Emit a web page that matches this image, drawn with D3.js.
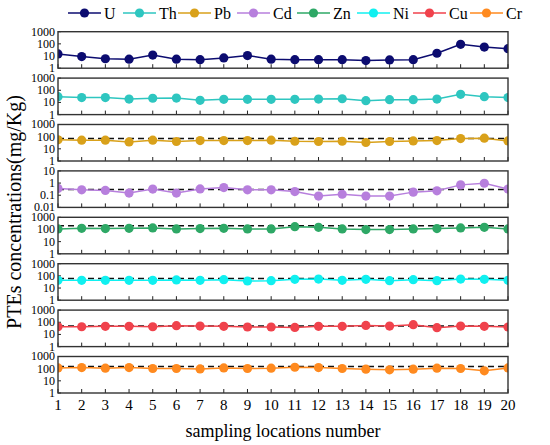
<!DOCTYPE html>
<html lang="en">
<head>
<meta charset="UTF-8"/>
<title>PTEs concentrations</title>
<script src="https://d3js.org/d3.v7.min.js"></script>
<style>
	body { margin: 0; background: #fff; }
	text { font-family: "Liberation Serif", "Times New Roman", serif; }
</style>
</head>
<body>
<script>
var w = 550;
var h = 445;

var locations = d3.range(1, 21);
var elements = ["U", "Th", "Pb", "Cd", "Zn", "Ni", "Cu", "Cr"];
var colors = ["#0c0c70", "#2ec6c0", "#d9a11a", "#b77fdd", "#2ea866", "#10f0f0", "#f0424c", "#ff8a1f"];

var U  = [15, 9, 6, 5.5, 12, 5.5, 5, 7, 11, 5.5, 5, 5, 5, 4.2, 4.8, 5, 17, 92, 55, 40];
var Th = [30, 25, 25, 19, 22, 23, 15, 18, 18, 18, 18, 19, 20, 14, 17, 17, 19, 46, 30, 25];
var Pb = [55, 51, 51, 37, 51, 40, 48, 48, 48, 51, 42, 40, 42, 33, 40, 45, 48, 70, 75, 45];
var Cd = [0.36, 0.28, 0.25, 0.15, 0.32, 0.15, 0.33, 0.43, 0.28, 0.28, 0.2, 0.085, 0.12, 0.085, 0.085, 0.18, 0.23, 0.71, 0.97, 0.32];
var Zn = [110, 125, 118, 125, 134, 110, 118, 125, 110, 110, 171, 150, 110, 98, 98, 110, 118, 134, 150, 110];
var Ni = [43, 43, 43, 43, 43, 46, 43, 49, 38, 40, 52, 55, 43, 52, 40, 49, 40, 55, 52, 43];
var Cu = [43, 43, 46, 46, 43, 52, 49, 46, 41, 41, 38, 46, 46, 55, 49, 63, 36, 49, 46, 41];
var Cr = [116, 123, 110, 123, 103, 103, 96, 116, 103, 110, 131, 123, 103, 91, 80, 91, 110, 103, 66, 116];
var series = [U, Th, Pb, Cd, Zn, Ni, Cu, Cr];

// soil screening values (dashed lines), null = none
var limits = [null, null, 70, 0.3, 200, 60, 50, 150];
var yDomains = [[1, 1000], [1, 1000], [1, 1000], [0.01, 10], [1, 1000], [1, 1000], [1, 1000], [1, 1000]];

var left = 58, right = 508;
var top0 = 31.7, step = 46.4, ph = 36.5;

var svg = d3.select("body").append("svg")
	.attr("width", w)
	.attr("height", h);

var xScale = d3.scaleLinear().domain([1, 20]).range([left, right]);

series.forEach(function (vals, i) {
	var y0 = top0 + i * step;
	var yScale = d3.scaleLog().domain(yDomains[i]).range([y0 + ph, y0]);
	var g = svg.append("g");

	g.append("clipPath").attr("id", "clip" + i)
		.append("rect")
		.attr("x", left).attr("y", y0)
		.attr("width", right - left).attr("height", ph);

	// x ticks pointing inward from the bottom
	g.selectAll(".xt").data(locations).enter().append("line")
		.attr("x1", function (d) { return xScale(d); })
		.attr("x2", function (d) { return xScale(d); })
		.attr("y1", y0 + ph)
		.attr("y2", y0 + ph - 4)
		.attr("stroke", "#222").attr("stroke-width", 1);

	// y tick labels (decades only)
	var yt = yScale.ticks().filter(function (t) {
		return Math.abs(Math.log10(t) - Math.round(Math.log10(t))) < 1e-9;
	});
	g.selectAll(".yl").data(yt).enter().append("text")
		.attr("x", left - 3)
		.attr("y", function (d) { return yScale(d); })
		.attr("dy", "0.33em")
		.attr("text-anchor", "end")
		.attr("font-size", "12px")
		.text(function (d) { return d < 1 ? String(+d.toFixed(2)) : d3.format("d")(d); });
	g.selectAll(".ytk").data(yt).enter().append("line")
		.attr("x1", left).attr("x2", left + 3)
		.attr("y1", function (d) { return yScale(d); })
		.attr("y2", function (d) { return yScale(d); })
		.attr("stroke", "#222");

	var plot = g.append("g").attr("clip-path", "url(#clip" + i + ")");

	if (limits[i] !== null) {
		plot.append("line")
			.attr("x1", left).attr("x2", right)
			.attr("y1", yScale(limits[i])).attr("y2", yScale(limits[i]))
			.attr("stroke", "#111").attr("stroke-width", 1.4)
			.attr("stroke-dasharray", "6,4");
	}

	var line = d3.line()
		.x(function (d, j) { return xScale(locations[j]); })
		.y(function (d) { return yScale(d); });

	plot.append("path").datum(vals)
		.attr("d", line)
		.attr("fill", "none")
		.attr("stroke", colors[i])
		.attr("stroke-width", 1.5);

	plot.selectAll("circle").data(vals).enter().append("circle")
		.attr("cx", function (d, j) { return xScale(locations[j]); })
		.attr("cy", function (d) { return yScale(d); })
		.attr("r", 4.6)
		.attr("fill", colors[i]);

	g.append("rect")
		.attr("x", left).attr("y", y0)
		.attr("width", right - left).attr("height", ph)
		.attr("fill", "none")
		.attr("stroke", "#333").attr("stroke-width", 1.4);
});

// x tick labels under the last panel
var lastBottom = top0 + 7 * step + ph;
svg.selectAll(".xl").data(locations).enter().append("text")
	.attr("x", function (d) { return xScale(d); })
	.attr("y", lastBottom + 17)
	.attr("text-anchor", "middle")
	.attr("font-size", "15px")
	.text(function (d) { return d; });

svg.append("text")
	.attr("x", (left + right) / 2)
	.attr("y", 437)
	.attr("text-anchor", "middle")
	.attr("font-size", "18px")
	.text("sampling locations number");

svg.append("text")
	.attr("transform", "translate(21," + 212 + ") rotate(-90)")
	.attr("text-anchor", "middle")
	.attr("font-size", "20px")
	.text("PTEs concentrations(mg/Kg)");

// legend
var legX = [68, 123, 178, 237, 297, 357, 413, 470];
var leg = svg.selectAll(".leg").data(elements).enter().append("g")
	.attr("transform", function (d, i) { return "translate(" + legX[i] + ",13)"; });
leg.append("line")
	.attr("x1", 0).attr("x2", 33)
	.attr("stroke", function (d, i) { return colors[i]; })
	.attr("stroke-width", 1.5);
leg.append("circle")
	.attr("cx", 16.5).attr("r", 4.6)
	.attr("fill", function (d, i) { return colors[i]; });
leg.append("text")
	.attr("x", 36)
	.attr("dy", "0.35em")
	.attr("font-size", "16px")
	.text(function (d) { return d; });
</script>
</body>
</html>
